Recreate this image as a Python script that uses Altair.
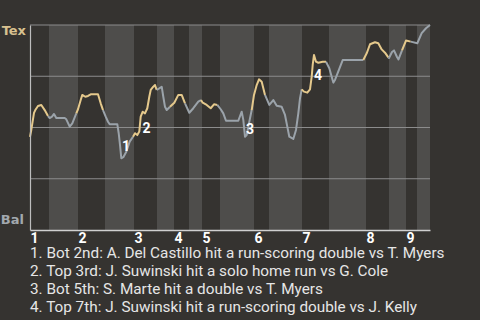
import altair as alt
import pandas as pd

# Win-probability line (x = play position within game, y = Texas win probability %)
play_x = [0, 1.3, 4, 5.3, 8, 11.3, 14.7, 18, 19.7, 22, 24, 26.3, 34.7, 36.3, 39.7, 42.3, 46.3,
          48, 50.7, 52.3, 55.3, 58, 60.7, 68, 70.7, 73, 75.7, 78, 79.7, 87.3, 88.7, 90, 91.3,
          93.3, 96.3, 99.7, 103, 105, 107.3, 109.3, 110.7, 112.7, 115, 117.3, 119.3, 120.7,
          123.3, 125, 126.7, 129.3, 131.7, 133.3, 135, 136.7, 140, 144.3, 148.3, 151.7, 155,
          159.3, 163.3, 168.3, 171, 172.7, 176.7, 180.7, 184, 187.3, 190.7, 193.3, 196, 208.3,
          211.7, 213.3, 215, 216.7, 218.3, 221.7, 224, 226.7, 229, 231.7, 235, 239.3, 243.3,
          246.7, 251.7, 255, 257.3, 259.3, 263.3, 266, 268.3, 270, 271.7, 274, 277.3, 280,
          281.7, 282.7, 284, 286, 288.3, 292.7, 296, 299.3, 303.3, 305, 312.7, 333.3, 336.7,
          340, 345, 348.3, 351.7, 355, 358.3, 359, 362, 364, 367, 368.5, 372, 376, 380.7,
          387.3, 391.7, 396, 400]
win_prob = [45.4, 48.8, 57.1, 58.5, 60.5, 61.0, 58.5, 55.6, 54.6, 55.3, 56.6, 54.6, 54.6, 54.0,
            50.4, 52.0, 56.9, 58.9, 63.4, 65.9, 65.0, 65.4, 66.2, 66.2, 61.8, 58.5, 55.3, 52.8,
            51.6, 51.6, 47.2, 41.5, 35.0, 35.5, 38.2, 43.1, 45.5, 47.2, 46.3, 48.0, 55.3, 57.7,
            56.9, 59.4, 65.0, 68.3, 69.9, 70.7, 68.3, 69.1, 69.9, 65.0, 60.1, 58.5, 60.1, 62.1,
            65.9, 65.9, 61.8, 57.2, 59.4, 62.6, 63.4, 62.1, 61.0, 59.4, 61.3, 61.0, 58.9, 56.9,
            53.3, 53.3, 57.7, 53.7, 45.5, 46.3, 50.4, 58.5, 65.9, 70.7, 73.5, 72.3, 65.9, 61.0,
            63.4, 60.6, 60.1, 56.1, 50.4, 45.5, 44.4, 48.8, 56.9, 64.2, 68.6, 67.5, 67.0, 68.6,
            74.8, 80.5, 85.4, 82.1, 81.6, 82.1, 82.1, 78.9, 71.9, 73.2, 82.9, 82.9, 86.2, 90.6,
            91.6, 91.1, 88.1, 86.5, 84.2, 83.9, 86.8, 87.6, 84.4, 83.2, 87.6, 92.4, 91.9, 91.1,
            96.0, 98.4, 100.0]

# Half-inning start positions (top 1st, bottom 1st, top 2nd, ...) and game end
half_starts = [0, 19, 48, 75, 104, 127, 144, 159, 172, 190, 224, 239, 272, 299, 336, 359, 376, 387]
game_end = 400
innings = ["1", "2", "3", "4", "5", "6", "7", "8", "9"]

grid_values = [25, 50, 75, 100]

# Key events
event_num = ["1", "2", "3", "4"]
event_x = [96, 116.5, 220, 288]
event_y = [40.5, 49.5, 49.0, 75.1]
notes = [
    "1. Bot 2nd: A. Del Castillo hit a run-scoring double vs T. Myers",
    "2. Top 3rd: J. Suwinski hit a solo home run vs G. Cole",
    "3. Bot 5th: S. Marte hit a double vs T. Myers",
    "4. Top 7th: J. Suwinski hit a run-scoring double vs J. Kelly",
]

away_team, home_team = "Tex", "Bal"

GOLD = "#e5c98c"
GRAY = "#9ba3aa"
BG = "#353330"
BAND = "#4e4d4b"

# Build line segments per half inning
bounds = half_starts + [game_end]
rows = []
for h in range(len(half_starts)):
    lo, hi = bounds[h], bounds[h + 1]
    idx = [i for i, x in enumerate(play_x) if lo <= x < hi or (h == len(half_starts) - 1 and x == hi)]
    if not idx:
        continue
    if idx[0] > 0:
        idx = [idx[0] - 1] + idx
    for i in idx:
        rows.append({"x": play_x[i], "y": win_prob[i], "seg": h,
                     "half": "top" if h % 2 == 0 else "bot"})
line_df = pd.DataFrame(rows)

band_df = pd.DataFrame({
    "x": [bounds[h] for h in range(1, len(half_starts), 2)],
    "x2": [bounds[h + 1] for h in range(1, len(half_starts), 2)],
})

top_starts = [half_starts[h] for h in range(0, len(half_starts), 2)]
label_expr = "[" + ",".join(f"'{s}'" for s in innings) + "][indexof([" + \
    ",".join(str(s) for s in top_starts) + "], datum.value)]"

xscale = alt.Scale(domain=[0, game_end], nice=False, zero=False)
yscale = alt.Scale(domain=[0, 100], nice=False)

xaxis = alt.Axis(values=top_starts, labelExpr=label_expr, labelAlign="left",
                 labelColor="#ffffff", labelFont="Roboto", labelFontWeight="bold",
                 labelFontSize=14, labelPadding=1, ticks=False, grid=False,
                 domainColor="#d0d0d0", domainWidth=1.5, title=None,
                 labelFlush=False, labelOverlap=False, zindex=1)
yaxis = alt.Axis(labels=False, ticks=False, grid=False, domainColor="#bdbdbd",
                 domainWidth=1.2, title=None, zindex=1)

bands = alt.Chart(band_df).mark_rect(color=BAND).encode(
    x=alt.X("x:Q", scale=xscale, axis=xaxis),
    x2="x2:Q",
    y=alt.value(0),
    y2=alt.value(205),
)

grid = alt.Chart(pd.DataFrame({"g": grid_values})).mark_rule(color="#8c8c8c", strokeWidth=1.2).encode(
    y=alt.Y("g:Q", scale=yscale, axis=yaxis),
)

line = alt.Chart(line_df).mark_line(strokeWidth=2, strokeJoin="round").encode(
    x=alt.X("x:Q", scale=xscale),
    y=alt.Y("y:Q", scale=yscale),
    detail="seg:N",
    color=alt.Color("half:N", scale=alt.Scale(domain=["top", "bot"], range=[GOLD, GRAY]), legend=None),
    order="x:Q",
)

ev = alt.Chart(pd.DataFrame({"x": event_x, "y": event_y, "t": event_num})).mark_text(
    color="#ffffff", font="Roboto", fontWeight="bold", fontSize=14, align="center", baseline="middle"
).encode(x=alt.X("x:Q", scale=xscale), y=alt.Y("y:Q", scale=yscale), text="t:N")

tex = alt.Chart(pd.DataFrame({"t": [away_team], "y": [100]})).mark_text(
    font="DejaVu Sans", fontWeight="bold", fontSize=13, align="right", baseline="middle",
    color="#d8c18f", dy=6
).encode(x=alt.value(-4), y=alt.Y("y:Q", scale=yscale), text="t:N")

bal = alt.Chart(pd.DataFrame({"t": [home_team], "y": [0]})).mark_text(
    font="DejaVu Sans", fontWeight="bold", fontSize=13, align="right", baseline="middle",
    color="#a2a9ae", dy=-10
).encode(x=alt.value(-6), y=alt.Y("y:Q", scale=yscale), text="t:N")

chart = alt.layer(bands, grid, line, ev, tex, bal).properties(
    width=400,
    height=205,
    autosize=alt.AutoSizeParams(type="none"),
    padding={"left": 30, "top": 25, "right": 50, "bottom": 90},
    background=BG,
    title=alt.TitleParams(text=notes, orient="bottom", anchor="start", font="Roboto",
                          fontSize=15.3, fontWeight="normal", color="#e6e6e6", lineHeight=18,
                          offset=1, frame="group"),
).configure_view(stroke=None)

chart.save("out.html", embed_options={"renderer": "svg", "actions": False})
